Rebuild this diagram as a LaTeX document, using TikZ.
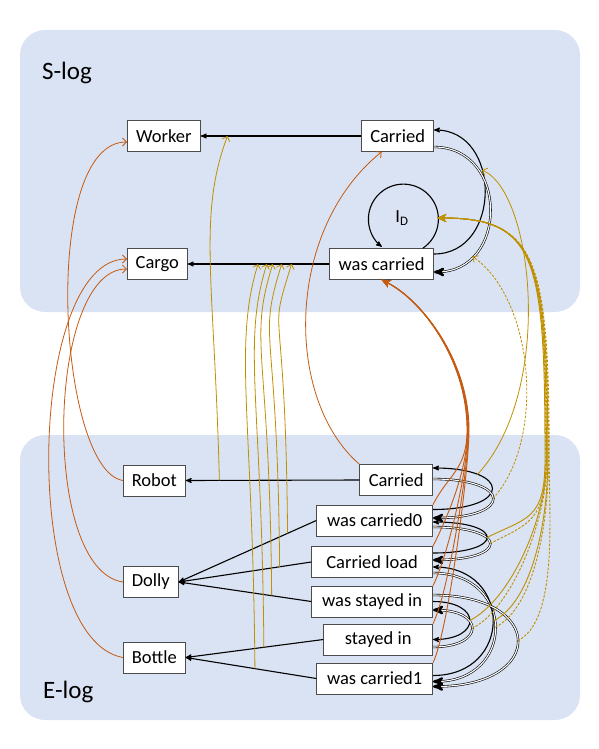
\documentclass[tikz,border=0pt]{standalone}
\usepackage{fontspec}
\setmainfont{Carlito}
\usetikzlibrary{arrows,arrows.meta}
\definecolor{logbg}{HTML}{DAE3F3}
\definecolor{orng}{HTML}{C55A11}
\definecolor{gold}{HTML}{BF9000}

\begin{document}
\begin{tikzpicture}[x=1pt,y=-1pt,>=stealth',
  box/.style={draw=black!70,fill=white,line width=0.7pt,minimum height=31pt,inner sep=0pt,font=\fontsize{18.5}{20}\selectfont},
  logname/.style={font=\fontsize{25}{28}\selectfont,anchor=base west,inner sep=0pt},
  blk/.style={->,line width=1.1pt},
  dbl/.style={->,double,line width=0.6pt,double distance=1.1pt},
  org/.style={-{Straight Barb[length=4pt,width=8pt]},draw=orng,line width=0.8pt},
  gld/.style={-{Straight Barb[length=4pt,width=8pt]},draw=gold,line width=0.8pt},
  gdash/.style={gld,dash pattern=on 2.5pt off 1.5pt},
  bundle/.style={-{Stealth[length=9pt,width=8pt]},line width=0.9pt}]
\useasboundingbox (0,0) rectangle (599,749);

% the two logs
\fill[logbg,rounded corners=25pt] (20,30) rectangle (580,312);
\fill[logbg,rounded corners=25pt] (20,435) rectangle (580,720);
\node[logname] (slog) at (42,80) {S-log};
\node[logname] (elog) at (43,698) {E-log};

% S-log
\node[box,minimum width=73pt,anchor=west] (worker) at (127,136) {Worker};
\node[box,minimum width=60pt,anchor=west] (cargo) at (127,264) {Cargo};
\node[box,minimum width=72pt,anchor=east] (carS) at (434,136) {Carried};
\node[box,minimum width=104pt,anchor=east] (wcarS) at (434,264) {was carried};
\node[circle,minimum size=70pt,inner sep=0pt,font=\fontsize{18.5}{20}\selectfont] (ID) at (402,218) {I\textsubscript{D}};

% E-log
\node[box,minimum width=62pt,anchor=west] (robot) at (123,480.5) {Robot};
\node[box,minimum width=55pt,anchor=west] (dolly) at (123,582) {Dolly};
\node[box,minimum width=62pt,anchor=west] (bottle) at (123,657.5) {Bottle};
\node[box,minimum width=73pt,anchor=east] (carE) at (433,480) {Carried};
\node[box,minimum width=116pt,anchor=east] (wcar0) at (433,520.5) {was carried0};
\node[box,minimum width=121pt,anchor=east] (cload) at (433,562) {Carried load};
\node[box,minimum width=121pt,anchor=east] (wstay) at (433,601.5) {was stayed in};
\node[box,minimum width=109pt,anchor=east] (stay) at (433,639.5) {stayed in};
\node[box,minimum width=116pt,anchor=east] (wcar1) at (433,678.5) {was carried1};

% straight edges
\draw[blk] (carS.west) -- (worker.east) coordinate[pos=0.833] (mWorker);
\draw[blk] (wcarS.west) -- (cargo.east) coordinate[pos=0.503] (mc1) coordinate[pos=0.441] (mc2)
  coordinate[pos=0.399] (mc3) coordinate[pos=0.336] (mc4) coordinate[pos=0.266] (mc5);
\draw[blk] (carE.west) -- (robot.east) coordinate[pos=0.806] (mRobot);
\draw[blk] (wcar0.west) -- (dolly.east) coordinate[pos=0.209] (md5);
\draw[blk] (cload.west) -- (dolly.east) coordinate[pos=0.239] (md4);
\draw[blk] (wstay.west) -- (dolly.east) coordinate[pos=0.299] (md3);
\draw[blk] (stay.west) -- (bottle.east) coordinate[pos=0.432] (md2);
\draw[blk] (wcar1.west) -- (bottle.east) coordinate[pos=0.47] (md1);

% loops in the S-log
\draw[blk] ([yshift=10pt]wcarS.east) .. controls +(68,0) and +(68,0) .. ([yshift=6pt]carS.east) coordinate[pos=0.62] (sRel);
\draw[dbl] ([yshift=-11pt]carS.east) .. controls +(75,0) and +(75,0) .. ([yshift=-8pt]wcarS.east) coordinate[pos=0.78] (sDbl);
\draw[blk] (wcarS.21) arc[start angle=-56, end angle=232, radius=35pt];

% loops in the E-log
\draw[blk] ([yshift=11pt]wcar0.east) .. controls +(79,0) and +(79,0) .. ([yshift=12pt]carE.east) coordinate[pos=0.75] (e1);
\draw[dbl] ([yshift=1pt]carE.east) .. controls +(80,0) and +(80,0) .. ([yshift=2.5pt]wcar0.east) coordinate[pos=0.5] (e2);
\draw[dbl] ([yshift=-6.5pt]wcar0.east) .. controls +(76,0) and +(76,0) .. ([yshift=2pt]cload.east) coordinate[pos=0.5] (e3);
\draw[blk] ([yshift=9pt]cload.east) .. controls +(72,0) and +(72,0) .. ([yshift=-1.5pt]wcar0.east) coordinate[pos=0.5] (e4);
\draw[dbl] ([yshift=-11pt]cload.east) .. controls +(83,0) and +(83,0) .. ([yshift=-3pt]wcar1.east) coordinate[pos=0.5] (e5);
\draw[blk] ([yshift=3pt]wcar1.east) .. controls +(80,0) and +(80,0) .. ([yshift=-5pt]cload.east) coordinate[pos=0.5] (e6);
\draw[blk] (wstay.east) .. controls +(49,0) and +(49,0) .. (stay.east) coordinate[pos=0.5] (e7);
\draw[dbl] ([yshift=-7.5pt]stay.east) .. controls +(52,0) and +(52,0) .. ([yshift=-8.5pt]wstay.east) coordinate[pos=0.5] (e8);
\draw[dbl] ([yshift=6.5pt]wstay.east) .. controls +(113,0) and +(113,0) .. ([yshift=-8pt]wcar1.east) coordinate[pos=0.5] (e9);

% objects E -> S
\draw[org] (robot.west) .. controls +(-65,-10) and +(-87,0) .. ([yshift=-6pt]worker.west);
\draw[org] (dolly.west) .. controls +(-83,-12) and +(-80,0) .. ([yshift=-5pt]cargo.west);
\draw[org] (bottle.west) .. controls +(-103,-18) and +(-100,0) .. ([yshift=5pt]cargo.west);

% events E -> S
\draw[org] (carE.north west) .. controls +(-75,-65) and +(-97,78) .. ([xshift=-16pt]carS.south);
\foreach \src/\jx in {wcar0/467,cload/467.5,wstay/468,stay/468.5,wcar1/469}
  \draw[org,bundle] (\src.north east) .. controls +(15,-30) and +(0,40) .. (\jx,430)
    .. controls +(0,-70) and +(40,20) .. (wcarS.south);

% edges E -> S
\draw[gld] (mRobot) .. controls +(-5,-200) and +(-30,80) .. (mWorker);
\foreach \a/\b in {md1/mc1,md2/mc2,md3/mc3,md4/mc4,md5/mc5}
  \draw[gld] (\a) .. controls +(-2,-250) and +(-25,80) .. (\b);
\draw[gld] (e1) .. controls +(77,-83) and +(52,22) .. (sRel);
\draw[gdash] (e2) .. controls +(53,-58) and +(62,43) .. (sDbl);
\foreach \src/\jx/\sty in {e4/545/gld,e3/545.7/gdash,e7/546.4/gld,e8/547.1/gdash,e6/547.8/gld,e5/548.5/gdash,e9/549.2/gdash}
  \draw[\sty,bundle] (\src) .. controls +(40,-20) and +(0,60) .. (\jx,460)
    .. controls +(0,-200) and +(100,0) .. (ID.east);
\end{tikzpicture}
\end{document}
